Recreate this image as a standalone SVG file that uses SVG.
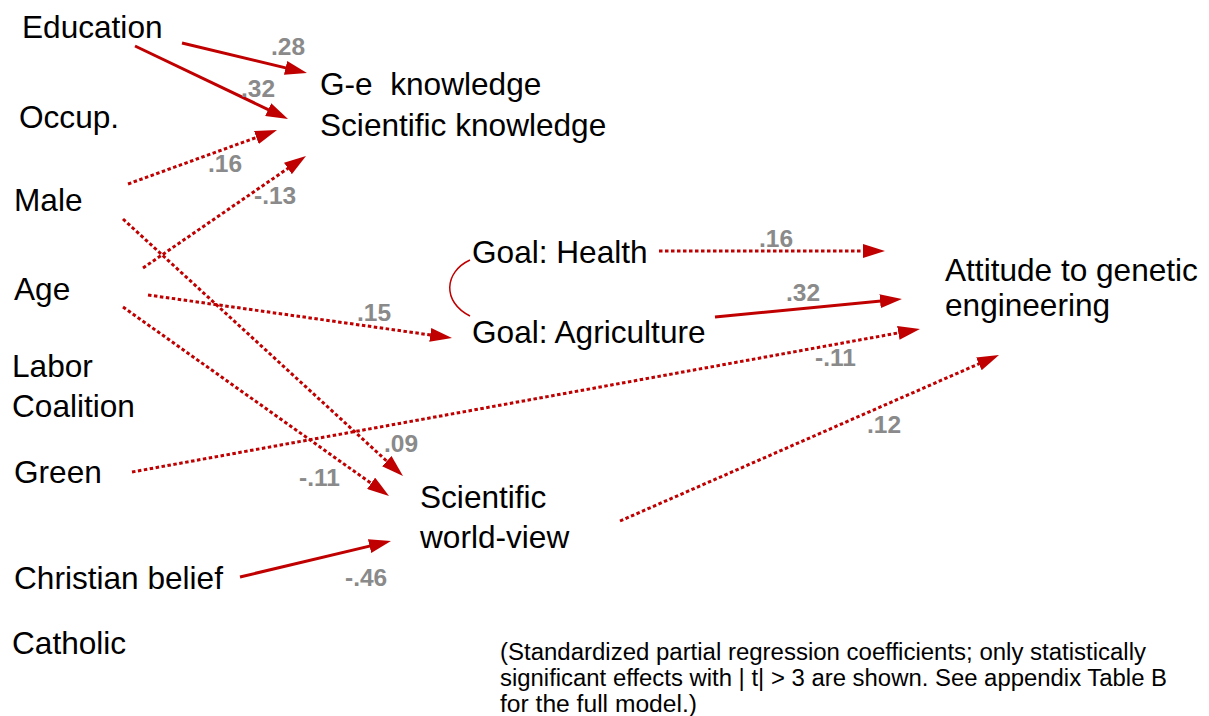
<svg xmlns="http://www.w3.org/2000/svg" width="1209" height="716" viewBox="0 0 1209 716">
  <style>
    .lbl { font-family: "Liberation Sans", Arial, sans-serif; font-size: 31.6px; fill: #000; }
    .coef { font-family: "Liberation Sans", Arial, sans-serif; font-size: 24.5px; font-weight: bold; fill: #8a8a8a; }
    .note { font-family: "Liberation Sans", Arial, sans-serif; font-size: 23px; fill: #000; }
    .path { fill: none; stroke: #c00000; stroke-width: 3; }
    .dot { stroke-dasharray: 3.5 2.5; marker-end: url(#head); }
    .solid { marker-end: url(#head); }
    .corr { fill: none; stroke: #c00000; stroke-width: 1.5; }
  </style>
  <defs>
    <marker id="head" markerUnits="userSpaceOnUse" markerWidth="22" markerHeight="14" refX="14" refY="7" orient="auto">
      <path d="M0,0 L22,7 L0,14 z" fill="#c00000"/>
    </marker>
  </defs>
  <rect width="1209" height="716" fill="#fff"/>

  <!-- connectors -->
  <g id="connectors">
    <path class="path solid" d="M182,43 L299.2,71.1"/>
    <path class="path solid" d="M135,46 L280.8,115.6"/>
    <path class="path dot" d="M128,184 L269.5,132.7"/>
    <path class="path dot" d="M143,268 L299.4,160.5"/>
    <path class="path dot" d="M123,219 L397.1,470.6"/>
    <path class="path dot" d="M123,307 L382.5,491.4"/>
    <path class="path dot" d="M148,295 L444.1,336.9"/>
    <path class="path dot" d="M132,472 L912.1,330.4"/>
    <path class="path solid" d="M240,577 L383.2,542.9"/>
    <path class="path dot" d="M659,251 L877,251"/>
    <path class="path solid" d="M715,317 L894,299.8"/>
    <path class="path dot" d="M620,521 L991.7,358.2"/>
    <!-- correlation between the two goals -->
    <path class="corr" d="M470,260 C444,272 442,302 470,316"/>
  </g>

  <!-- coefficients -->
  <g id="coefficients">
    <text class="coef" x="271" y="55">.28</text>
    <text class="coef" x="241" y="97">.32</text>
    <text class="coef" x="208" y="172">.16</text>
    <text class="coef" x="254" y="204">-.13</text>
    <text class="coef" x="759" y="247">.16</text>
    <text class="coef" x="786" y="301">.32</text>
    <text class="coef" x="357" y="321">.15</text>
    <text class="coef" x="815" y="366">-.11</text>
    <text class="coef" x="384" y="452">.09</text>
    <text class="coef" x="299" y="486">-.11</text>
    <text class="coef" x="867" y="433">.12</text>
    <text class="coef" x="345" y="586">-.46</text>
  </g>

  <!-- nodes -->
  <g id="education"><text class="lbl" x="22" y="38">Education</text></g>
  <g id="occup"><text class="lbl" x="19" y="128">Occup.</text></g>
  <g id="male"><text class="lbl" x="14" y="211">Male</text></g>
  <g id="age"><text class="lbl" x="14" y="300">Age</text></g>
  <g id="labor-coalition">
    <text class="lbl" x="12" y="377">Labor</text>
    <text class="lbl" x="12" y="417">Coalition</text>
  </g>
  <g id="green"><text class="lbl" x="14" y="483">Green</text></g>
  <g id="christian"><text class="lbl" x="14" y="589">Christian belief</text></g>
  <g id="catholic"><text class="lbl" x="12" y="654">Catholic</text></g>
  <g id="knowledge">
    <text class="lbl" x="320" y="95" xml:space="preserve">G-e  knowledge</text>
    <text class="lbl" x="320" y="136">Scientific knowledge</text>
  </g>
  <g id="goal-health"><text class="lbl" x="472" y="263">Goal: Health</text></g>
  <g id="goal-agriculture"><text class="lbl" x="472" y="343">Goal: Agriculture</text></g>
  <g id="attitude">
    <text class="lbl" x="945" y="281">Attitude to genetic</text>
    <text class="lbl" x="945" y="316">engineering</text>
  </g>
  <g id="worldview">
    <text class="lbl" x="420" y="508">Scientific</text>
    <text class="lbl" x="420" y="548">world-view</text>
  </g>

  <!-- footnote -->
  <g id="note">
    <text class="note" x="500" y="660" textLength="646" lengthAdjust="spacingAndGlyphs">(Standardized partial regression coefficients; only statistically</text>
    <text class="note" x="500" y="686" textLength="667" lengthAdjust="spacingAndGlyphs">significant effects with | t| &gt; 3 are shown. See appendix Table B</text>
    <text class="note" x="500" y="712" textLength="197" lengthAdjust="spacingAndGlyphs">for the full model.)</text>
  </g>
</svg>
